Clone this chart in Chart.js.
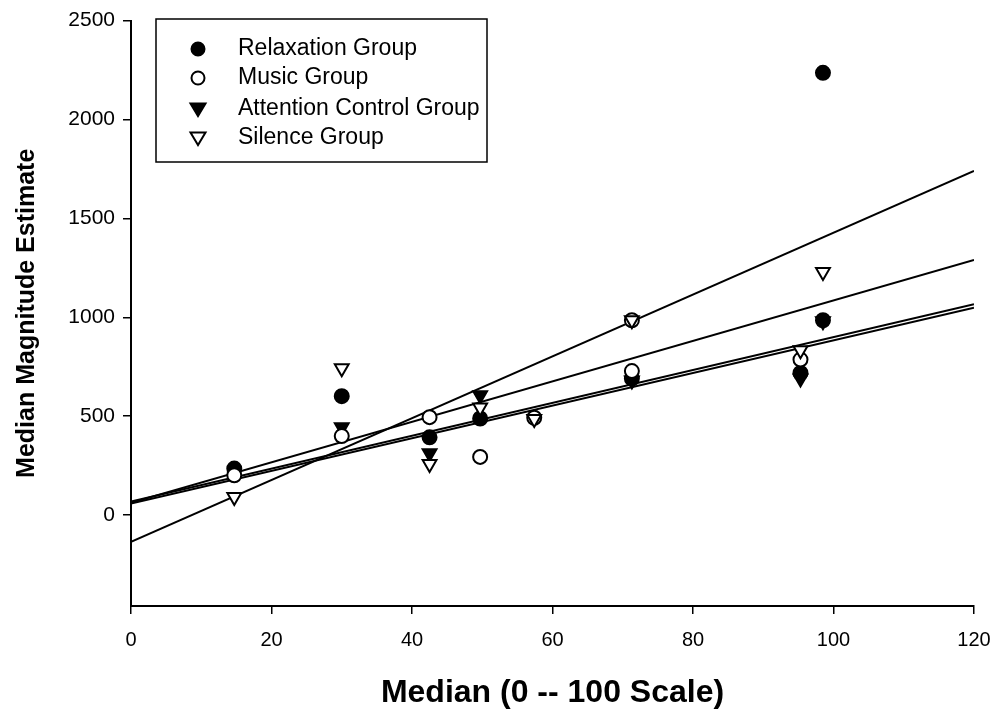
<!DOCTYPE html>
<html>
<head>
<meta charset="utf-8">
<script src="https://cdn.jsdelivr.net/npm/chart.js@4/dist/chart.umd.min.js"></script>
<style>
html,body{margin:0;padding:0;background:#fff;}
#wrap{width:994px;height:712px;}
</style>
</head>
<body>
<div id="wrap"><canvas id="c" width="994" height="712"></canvas></div>
<script>
// ---- data ----
const seriesNames = ['Relaxation Group', 'Music Group', 'Attention Control Group', 'Silence Group'];
const relaxX = [14.7, 30, 42.5, 49.7, 71.3, 95.3, 98.5, 98.5];
const relaxY = [235, 601, 393, 488, 690, 718, 2236, 985];
const musicX = [14.7, 30, 42.5, 49.7, 57.4, 71.3, 71.3, 95.3];
const musicY = [201, 399, 495, 294, 492, 728, 985, 786];
const attnX = [30, 42.5, 49.7, 71.3, 95.3, 98.5];
const attnY = [444, 312, 606, 680, 690, 980];
const silX = [14.7, 30, 42.5, 49.7, 57.4, 71.3, 95.3, 98.5];
const silY = [91, 742, 258, 544, 486, 985, 833, 1229];
// regression lines: value at x=0 and x=120
const lineX = [0, 120];
const fitLines = [[-135, 1740], [62, 1290], [68, 1066], [58, 1048]];
const xTicks = [0, 20, 40, 60, 80, 100, 120];
const yTicks = [0, 500, 1000, 1500, 2000, 2500];

const pts = (xs, ys) => xs.map((x, i) => ({x: x, y: ys[i]}));
const FONT = "'Liberation Sans', Arial, Helvetica, sans-serif";

const markerDefs = [
  {style: 'circle', fill: '#000', rot: 0},
  {style: 'circle', fill: '#fff', rot: 0},
  {style: 'triangle', fill: '#000', rot: 180},
  {style: 'triangle', fill: '#fff', rot: 180}
];
const seriesData = [pts(relaxX, relaxY), pts(musicX, musicY), pts(attnX, attnY), pts(silX, silY)];
const drawOrder = [2, 1, 2, 0];

const datasets = seriesData.map((d, i) => ({
  type: 'scatter',
  label: seriesNames[i],
  data: d,
  pointStyle: markerDefs[i].style,
  rotation: markerDefs[i].rot,
  pointRadius: markerDefs[i].style === 'circle' ? 7 : 8,
  pointBackgroundColor: markerDefs[i].fill,
  pointBorderColor: '#000',
  pointBorderWidth: 2,
  showLine: false,
  order: drawOrder[i]
}));
fitLines.forEach((v, i) => {
  datasets.push({
    type: 'line',
    label: 'fit' + i,
    data: pts(lineX, v),
    borderColor: '#000',
    borderWidth: 2,
    pointRadius: 0,
    fill: false,
    order: 5
  });
});

const legendBox = {
  id: 'legendBox',
  afterDraw(chart) {
    const ctx = chart.ctx;
    ctx.save();
    ctx.strokeStyle = '#000';
    ctx.lineWidth = 1.5;
    ctx.strokeRect(156, 19, 331, 143);
    const rows = [49, 78, 109, 138];
    ctx.font = "23px " + FONT;
    ctx.textBaseline = 'middle';
    for (let i = 0; i < 4; i++) {
      const m = markerDefs[i];
      const ds = chart.data.datasets[i];
      ctx.fillStyle = m.fill;
      ctx.strokeStyle = '#000';
      ctx.lineWidth = 2;
      ctx.beginPath();
      if (m.style === 'circle') {
        ctx.arc(198, rows[i], 6.5, 0, Math.PI * 2);
      } else {
        ctx.moveTo(190.5, rows[i] - 5.5);
        ctx.lineTo(205.5, rows[i] - 5.5);
        ctx.lineTo(198, rows[i] + 7);
        ctx.closePath();
      }
      ctx.fill();
      ctx.stroke();
      ctx.fillStyle = '#000';
      ctx.fillText(ds.label, 238, rows[i]);
    }
    ctx.restore();
  }
};

new Chart(document.getElementById('c'), {
  data: {datasets: datasets},
  options: {
    responsive: false,
    animation: false,
    events: [],
    layout: {padding: {top: 20, right: 4, left: 0, bottom: 0}},
    plugins: {legend: {display: false}, tooltip: {enabled: false}},
    scales: {
      x: {
        type: 'linear',
        min: 0, max: 120,
        afterBuildTicks: s => { s.ticks = xTicks.map(v => ({value: v})); },
        afterFit: s => { s.height = 106; s.paddingRight = 20; s.paddingLeft = 0; },
        border: {display: true, color: '#000', width: 2},
        grid: {display: true, drawOnChartArea: false, drawTicks: true, tickLength: 8, color: '#000', lineWidth: 1.5},
        ticks: {color: '#000', font: {family: FONT, size: 20}, padding: 14, maxRotation: 0,
          callback: v => String(v)},
        title: {display: true, text: 'Median (0 -- 100 Scale)', color: '#000',
          font: {family: FONT, size: 32, weight: 'bold'}, padding: {top: 13, bottom: 0}}
      },
      y: {
        type: 'linear',
        min: -460, max: 2500,
        afterBuildTicks: s => { s.ticks = yTicks.map(v => ({value: v})); },
        afterFit: s => { s.width = 131; },
        border: {display: true, color: '#000', width: 2},
        grid: {display: true, drawOnChartArea: false, drawTicks: true, tickLength: 8, color: '#000', lineWidth: 1.5},
        ticks: {color: '#000', font: {family: FONT, size: 21}, padding: 8,
          callback: v => String(v)},
        title: {display: true, text: 'Median Magnitude Estimate', color: '#000',
          font: {family: FONT, size: 25, weight: 'bold'}, padding: {top: 12, bottom: 0}}
      }
    }
  },
  plugins: [legendBox]
});
</script>
</body>
</html>
